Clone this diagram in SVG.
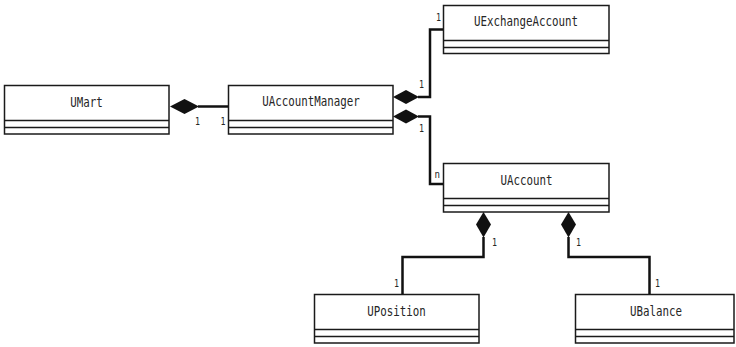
<svg xmlns="http://www.w3.org/2000/svg" width="736" height="347" viewBox="0 0 736 347">
  <style>
    .box { fill: #ffffff; stroke: #1a1a1a; stroke-width: 1.5; }
    .div { stroke: #1a1a1a; stroke-width: 1.5; }
    .name { font-family: "DejaVu Sans Mono", "Liberation Mono", monospace; font-size: 14px; fill: #262626; text-anchor: middle; }
    .mult { font-family: "DejaVu Sans Mono", "Liberation Mono", monospace; font-size: 10.5px; fill: #262626; }
    .link { fill: none; stroke: #111; stroke-width: 2.5; }
    .diamond { fill: #111; stroke: none; }
  </style>

  <!-- classes: name compartment + two empty compartments -->
  <g id="UMart">
    <rect class="box" x="4.5" y="85.5" width="164.5" height="48.5"/>
    <line class="div" x1="4.5" y1="120.5" x2="169" y2="120.5"/>
    <line class="div" x1="4.5" y1="127.5" x2="169" y2="127.5"/>
    <text class="name" x="86.5" y="107" textLength="32.5" lengthAdjust="spacingAndGlyphs">UMart</text>
  </g>

  <g id="UAccountManager">
    <rect class="box" x="228.5" y="85.5" width="164.5" height="48.5"/>
    <line class="div" x1="228.5" y1="120.5" x2="393" y2="120.5"/>
    <line class="div" x1="228.5" y1="127.5" x2="393" y2="127.5"/>
    <text class="name" x="311" y="106" textLength="97.5" lengthAdjust="spacingAndGlyphs">UAccountManager</text>
  </g>

  <g id="UExchangeAccount">
    <rect class="box" x="443.5" y="5.5" width="165.5" height="48"/>
    <line class="div" x1="443.5" y1="40.5" x2="609" y2="40.5"/>
    <line class="div" x1="443.5" y1="47.5" x2="609" y2="47.5"/>
    <text class="name" x="526" y="26" textLength="104" lengthAdjust="spacingAndGlyphs">UExchangeAccount</text>
  </g>

  <g id="UAccount">
    <rect class="box" x="443.5" y="163.5" width="165.5" height="48.5"/>
    <line class="div" x1="443.5" y1="198.5" x2="609" y2="198.5"/>
    <line class="div" x1="443.5" y1="205.5" x2="609" y2="205.5"/>
    <text class="name" x="526.5" y="185" textLength="52" lengthAdjust="spacingAndGlyphs">UAccount</text>
  </g>

  <g id="UPosition">
    <rect class="box" x="314.5" y="294.5" width="164.5" height="48.5"/>
    <line class="div" x1="314.5" y1="329.5" x2="479" y2="329.5"/>
    <line class="div" x1="314.5" y1="336.5" x2="479" y2="336.5"/>
    <text class="name" x="396.5" y="316" textLength="58.5" lengthAdjust="spacingAndGlyphs">UPosition</text>
  </g>

  <g id="UBalance">
    <rect class="box" x="575.5" y="294.5" width="158.5" height="48.5"/>
    <line class="div" x1="575.5" y1="329.5" x2="734" y2="329.5"/>
    <line class="div" x1="575.5" y1="336.5" x2="734" y2="336.5"/>
    <text class="name" x="656" y="316" textLength="52" lengthAdjust="spacingAndGlyphs">UBalance</text>
  </g>

  <!-- composition links -->
  <g id="connectors">
    <!-- UMart <>- UAccountManager -->
    <polygon class="diamond" points="170,106.5 184.5,99 199,106.5 184.5,114"/>
    <line class="link" x1="198" y1="106.5" x2="228" y2="106.5"/>

    <!-- UAccountManager <>- UExchangeAccount -->
    <polygon class="diamond" points="393,97 406,90 419,97 406,104"/>
    <polyline class="link" points="418,97 430,97 430,29.5 443,29.5"/>

    <!-- UAccountManager <>- UAccount -->
    <polygon class="diamond" points="393,116.5 406,109.5 419,116.5 406,123.5"/>
    <polyline class="link" points="418,116.5 430,116.5 430,184 443,184"/>

    <!-- UAccount <>- UPosition -->
    <polygon class="diamond" points="483.5,212 491,224.5 483.5,237.5 476,224.5"/>
    <polyline class="link" points="483.5,237 483.5,257 402.5,257 402.5,294"/>

    <!-- UAccount <>- UBalance -->
    <polygon class="diamond" points="568.5,212 576,224.5 568.5,237.5 561,224.5"/>
    <polyline class="link" points="568.5,237 568.5,257 649.5,257 649.5,294"/>

    <!-- multiplicities -->
    <text class="mult" x="195" y="125" textLength="5" lengthAdjust="spacingAndGlyphs">1</text>
    <text class="mult" x="220.5" y="125" textLength="5" lengthAdjust="spacingAndGlyphs">1</text>
    <text class="mult" x="436" y="21" textLength="5" lengthAdjust="spacingAndGlyphs">1</text>
    <text class="mult" x="419" y="88" textLength="5" lengthAdjust="spacingAndGlyphs">1</text>
    <text class="mult" x="419" y="132" textLength="5" lengthAdjust="spacingAndGlyphs">1</text>
    <text class="mult" x="434.5" y="178" textLength="5.5" lengthAdjust="spacingAndGlyphs">n</text>
    <text class="mult" x="492" y="246" textLength="5" lengthAdjust="spacingAndGlyphs">1</text>
    <text class="mult" x="394" y="287" textLength="5" lengthAdjust="spacingAndGlyphs">1</text>
    <text class="mult" x="576" y="246" textLength="5" lengthAdjust="spacingAndGlyphs">1</text>
    <text class="mult" x="655" y="287" textLength="5" lengthAdjust="spacingAndGlyphs">1</text>
  </g>
</svg>
